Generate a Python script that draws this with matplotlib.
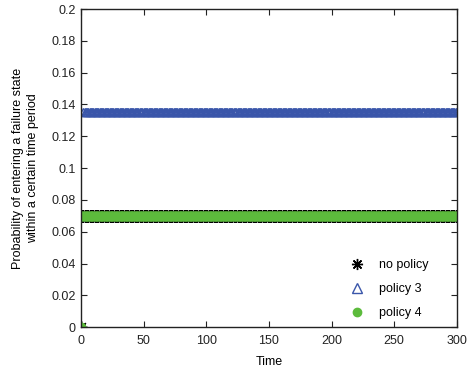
import numpy as np
import matplotlib
matplotlib.use("Agg")
import matplotlib.pyplot as plt

plt.rcParams['font.family'] = ['Liberation Sans', 'DejaVu Sans']

# Time steps and probabilities for each policy
time = list(range(0, 301))
no_policy = [0.0] + [0.0700] * 300
policy3 = [0.0, 0.0700] + [0.1355] * 299
policy4 = [0.0] + [0.0700] * 300

x_ticks = [0, 50, 100, 150, 200, 250, 300]
y_ticks = [0, 0.02, 0.04, 0.06, 0.08, 0.1, 0.12, 0.14, 0.16, 0.18, 0.2]
y_labels = ['0', '0.02', '0.04', '0.06', '0.08', '0.1', '0.12', '0.14', '0.16', '0.18', '0.2']

fig = plt.figure(figsize=(4.7, 3.76), dpi=100)
ax = fig.add_axes([0.172, 0.130, 0.800, 0.846])

blue = '#3a56aa'
green = '#5cbb3c'

ax.plot(time, no_policy, linestyle='none', marker=(8, 2, 0), markersize=8.8,
        markeredgewidth=1.0, color='black', label='no policy')
ax.plot(time, policy3, linestyle='none', marker='^', markersize=5.5,
        markerfacecolor='none', markeredgecolor=blue, markeredgewidth=1.0,
        label='policy 3')
ax.plot(time, policy4, linestyle='none', marker='o', markersize=6.2,
        markerfacecolor=green, markeredgecolor=green, label='policy 4')

ax.set_xlim(0, 300)
ax.set_ylim(0, 0.2)
ax.set_xticks(x_ticks)
ax.set_yticks(y_ticks)
ax.set_yticklabels(y_labels)
ax.tick_params(direction='in', top=True, right=True, labelsize=9,
               length=4, width=0.8, colors='#222222')
ax.tick_params(axis='x', pad=6)
for sp in ax.spines.values():
    sp.set_linewidth(1.0)
    sp.set_color('#222222')

ax.set_xlabel('Time', fontsize=9, labelpad=6)
ax.set_ylabel('Probability of entering a failure state\nwithin a certain time period',
              fontsize=9, labelpad=9, linespacing=1.3)

handles, labels = ax.get_legend_handles_labels()
leg = ax.legend(handles, labels, loc='lower right', frameon=False, fontsize=9,
                bbox_to_anchor=(0.955, -0.01), labelspacing=0.95,
                handletextpad=1.0, handlelength=1.6, numpoints=1)
leg.legend_handles[0].set_markersize(8)
leg.legend_handles[1].set_markersize(6.5)
leg.legend_handles[2].set_markersize(6)

fig.savefig('out.png', dpi=100)
